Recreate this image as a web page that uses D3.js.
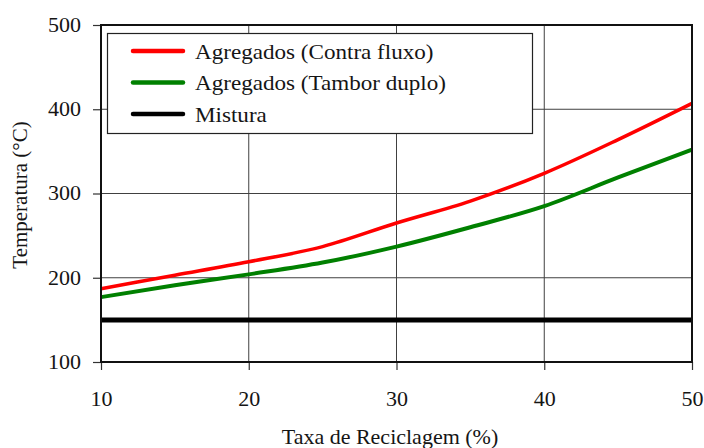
<!DOCTYPE html>
<html>
<head>
<meta charset="utf-8">
<script src="https://cdn.jsdelivr.net/npm/d3@7"></script>
<style>
  html, body { margin: 0; padding: 0; background: #fff; }
  svg { display: block; font-family: "Liberation Serif", "Times New Roman", serif; }
</style>
</head>
<body>
<svg id="chart" width="704" height="448"></svg>
<script>
// Recycling rate (%) on the x axis
const taxa = [10, 15, 20, 25, 30, 35, 40, 45, 50];
// Required temperature (°C) per heating method
const contraFluxo = [187, 203, 219, 237, 265, 291, 324, 364, 407];
const tamborDuplo = [177, 191, 204, 218, 237, 260, 285, 319, 352];
const mistura = [150, 150, 150, 150, 150, 150, 150, 150, 150];

const xTicks = [10, 20, 30, 40, 50];
const yTicks = [100, 200, 300, 400, 500];

const seriesNames = ["Agregados (Contra fluxo)", "Agregados (Tambor duplo)", "Mistura"];
const seriesColors = ["#ff0000", "#008000", "#000000"];
const seriesValues = [contraFluxo, tamborDuplo, mistura];

const svg = d3.select("#chart");
const m = { left: 101, right: 692, top: 25, bottom: 362 };
const textColor = "#151515";

const x = d3.scaleLinear().domain([10, 50]).range([m.left, m.right]);
const y = d3.scaleLinear().domain([100, 500]).range([m.bottom, m.top]);

// grid lines
const grid = svg.append("g").attr("stroke", "#404040").attr("stroke-width", 1);
grid.selectAll("line.gx").data(xTicks.slice(1, -1)).join("line")
  .attr("x1", d => x(d)).attr("x2", d => x(d))
  .attr("y1", m.top).attr("y2", m.bottom);
grid.selectAll("line.gy").data(yTicks.slice(1, -1)).join("line")
  .attr("x1", m.left).attr("x2", m.right)
  .attr("y1", d => y(d)).attr("y2", d => y(d));

// axes with outward ticks
const xAxis = svg.append("g").attr("transform", `translate(0,${m.bottom})`)
  .call(d3.axisBottom(x).tickValues(xTicks).tickSize(8).tickPadding(22).tickFormat(d3.format("d")));
const yAxis = svg.append("g").attr("transform", `translate(${m.left},0)`)
  .call(d3.axisLeft(y).tickValues(yTicks).tickSize(8).tickPadding(12).tickFormat(d3.format("d")));
[xAxis, yAxis].forEach(a => {
  a.select(".domain").remove();
  a.selectAll(".tick line").attr("stroke", "#333").attr("stroke-width", 1.2);
  a.selectAll(".tick text")
    .attr("font-family", "Liberation Serif")
    .attr("font-size", 20)
    .attr("fill", textColor)
    .each(function () {
      // slightly widened numerals, keeping the anchor point in place
      const t = d3.select(this);
      const tx = +t.attr("x") || 0;
      t.attr("x", 0).attr("transform", `translate(${tx},0) scale(1.1,1)`);
    });
});

// data lines
const line = d3.line().x((d, i) => x(taxa[i])).y(d => y(d)).curve(d3.curveMonotoneX);
const widths = [3.5, 4, 5];
seriesValues.forEach((vals, k) => {
  svg.append("path").datum(vals)
    .attr("fill", "none")
    .attr("stroke", seriesColors[k])
    .attr("stroke-width", widths[k])
    .attr("d", line);
});

// frame
svg.append("rect")
  .attr("x", m.left).attr("y", m.top)
  .attr("width", m.right - m.left).attr("height", m.bottom - m.top)
  .attr("fill", "none").attr("stroke", "#111").attr("stroke-width", 2);

// legend
const lg = svg.append("g");
lg.append("rect").attr("x", 107.5).attr("y", 33.5).attr("width", 425).attr("height", 100)
  .attr("fill", "#fff").attr("stroke", "#222").attr("stroke-width", 1.2);
seriesNames.forEach((name, k) => {
  const yy = 51 + k * 31.5;
  lg.append("line").attr("x1", 133).attr("x2", 183).attr("y1", yy).attr("y2", yy)
    .attr("stroke", seriesColors[k]).attr("stroke-width", 4.5).attr("stroke-linecap", "round");
  lg.append("text").attr("transform", `translate(195,${yy + 7.5}) scale(1.05,1)`)
    .attr("font-size", 22).attr("fill", textColor).text(name);
});

// axis titles
svg.append("text").attr("x", 390).attr("y", 443.5).attr("text-anchor", "middle")
  .attr("font-size", 22).attr("fill", textColor).text("Taxa de Reciclagem (%)");
svg.append("text").attr("transform", "translate(27,195) rotate(-90)").attr("text-anchor", "middle")
  .attr("font-size", 21).attr("fill", textColor).text("Temperatura (°C)");
</script>
</body>
</html>
